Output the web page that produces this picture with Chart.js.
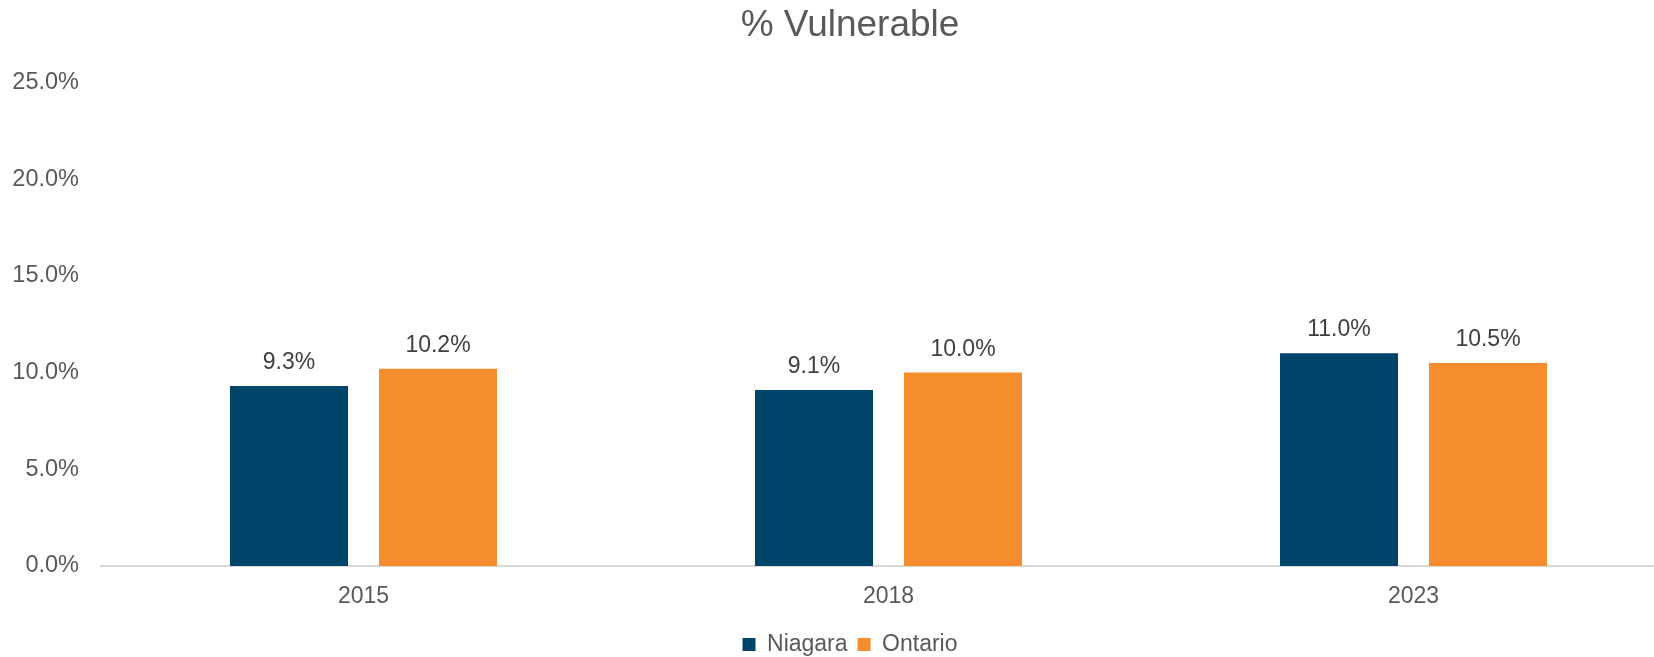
<!DOCTYPE html>
<html>
<head>
<meta charset="utf-8">
<script src="https://cdn.jsdelivr.net/npm/chart.js@4/dist/chart.umd.min.js"></script>
<style>
  html, body { margin: 0; padding: 0; background: #ffffff; overflow: hidden; }
  #wrap { width: 1700px; height: 657px; }
</style>
</head>
<body>
<div id="wrap"><canvas id="c" width="1700" height="657"></canvas></div>
<script>
const categories = ['2015', '2018', '2023'];
const niagara = [9.3, 9.1, 11.0];
const ontario = [10.2, 10.0, 10.5];
const seriesNames = ['Niagara', 'Ontario'];
const yTicks = [0, 5, 10, 15, 20, 25];
const chartTitle = '% Vulnerable';

const FONT = "'Liberation Sans', Arial, sans-serif";
const TEXT = '#595959';

const dataLabels = {
  id: 'dataLabels',
  afterDatasetsDraw(chart) {
    const ctx = chart.ctx;
    ctx.save();
    ctx.font = '23px ' + FONT;
    ctx.fillStyle = '#404040';
    ctx.textAlign = 'center';
    ctx.textBaseline = 'alphabetic';
    chart.data.datasets.forEach((ds, i) => {
      const meta = chart.getDatasetMeta(i);
      meta.data.forEach((el, j) => {
        ctx.fillText(ds.data[j].toFixed(1) + '%', el.x, el.y - 17);
      });
    });
    ctx.restore();
  }
};

new Chart(document.getElementById('c'), {
  type: 'bar',
  data: {
    labels: categories,
    datasets: [
      { label: seriesNames[0], data: niagara, backgroundColor: '#01446a', categoryPercentage: 0.5676, barPercentage: 0.792 },
      { label: seriesNames[1], data: ontario, backgroundColor: '#f68d2c', categoryPercentage: 0.5676, barPercentage: 0.792 }
    ]
  },
  options: {
    responsive: false,
    animation: false,
    layout: { padding: { left: 0, right: 0, top: 0, bottom: -9 } },
    plugins: {
      title: {
        display: true,
        text: chartTitle,
        color: TEXT,
        font: { family: FONT, size: 37, weight: 'normal' },
        padding: { top: 4, bottom: 34 }
      },
      legend: {
        position: 'bottom',
        labels: {
          color: TEXT,
          font: { family: FONT, size: 23 },
          boxWidth: 13,
          boxHeight: 13,
          padding: 10
        }
      },
      tooltip: { enabled: false }
    },
    scales: {
      x: {
        grid: { display: false, drawTicks: false },
        border: { display: true, color: '#d9d9d9', width: 2 },
        ticks: { color: TEXT, font: { family: FONT, size: 23 }, padding: 17 },
        afterFit(scale) { scale.height = 57; }
      },
      y: {
        min: 0,
        max: 25,
        grid: { display: false, drawTicks: false },
        border: { display: false },
        afterBuildTicks(scale) { scale.ticks = yTicks.map(v => ({ value: v })); },
        ticks: {
          color: TEXT,
          font: { family: FONT, size: 23.5 },
          padding: 22,
          callback: (v) => Number(v).toFixed(1) + '%'
        },
        afterFit(scale) { scale.width = 101; }
      },
      yRight: {
        position: 'right',
        display: true,
        min: 0,
        max: 25,
        grid: { display: false, drawTicks: false },
        border: { display: false },
        ticks: { display: false },
        afterFit(scale) { scale.width = 24; }
      }
    }
  },
  plugins: [dataLabels]
});
</script>
</body>
</html>
